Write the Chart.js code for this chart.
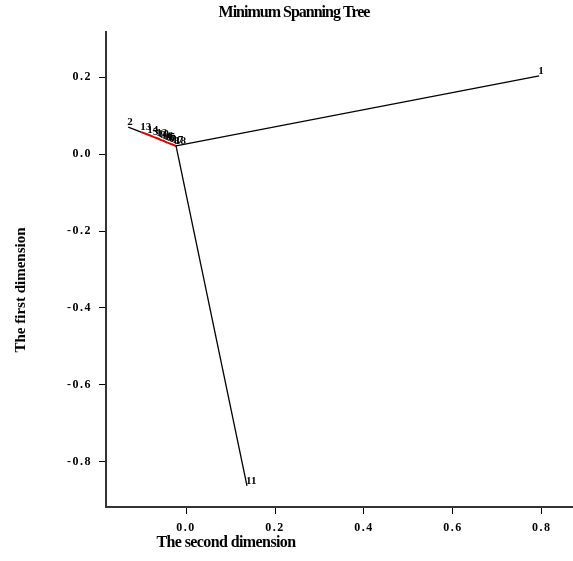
<!DOCTYPE html>
<html>
<head>
<meta charset="utf-8">
<script src="https://cdn.jsdelivr.net/npm/chart.js@4/dist/chart.umd.min.js"></script>
<style>
  html, body { margin: 0; padding: 0; background: #fff; }
  #wrap { width: 573px; height: 561px; }
</style>
</head>
<body>
<div id="wrap"><canvas id="mst"></canvas></div>
<script>
// node labels and coordinates (x = second dimension, y = first dimension)
const nodeIds = ['1', '2', '11', '13', '14', '3', '12', '10', '9', '16', '15', '4', '5', '6', '7', '17', '8', '18'];
const dim2 = [0.794, -0.130, 0.137, -0.101, -0.085, -0.072, -0.065, -0.061, -0.056, -0.052, -0.047, -0.043, -0.040, -0.036, -0.034, -0.029, -0.025, -0.0225];
const dim1 = [0.203, 0.070, -0.862, 0.057, 0.050, 0.044, 0.041, 0.039, 0.036, 0.035, 0.032, 0.030, 0.029, 0.027, 0.026, 0.024, 0.022, 0.021];

// tree edges
const blackEdges = [['1', '18'], ['11', '18'], ['2', '13']];
const redPath = ['13', '14', '3', '12', '10', '9', '16', '15', '4', '5', '6', '7', '17', '8', '18'];

const xTicks = [0.0, 0.2, 0.4, 0.6, 0.8];
const yTicks = [-0.8, -0.6, -0.4, -0.2, 0.0, 0.2];

const pt = (id) => {
  const i = nodeIds.indexOf(id);
  return { x: dim2[i], y: dim1[i] };
};

const datasets = blackEdges.map((e) => ({
  data: e.map(pt),
  showLine: true,
  borderColor: '#000',
  borderWidth: 1.3,
  pointRadius: 0,
}));
datasets.push({
  data: redPath.map(pt),
  showLine: true,
  borderColor: '#e00000',
  borderWidth: 2,
  pointRadius: 0,
});

const serif = '"Liberation Serif", "DejaVu Serif", serif';

// spaced-out tick labels like the original
const spacing = {
  id: 'spacing',
  beforeDraw(chart) { chart.ctx.letterSpacing = '1.5px'; },
  afterDatasetsDraw(chart) { chart.ctx.letterSpacing = '0px'; },
};

const textPlugin = {
  id: 'mstText',
  afterDraw(chart) {
    const { ctx, scales } = chart;
    ctx.save();
    ctx.fillStyle = '#000';
    ctx.letterSpacing = '0px';
    // node labels
    ctx.font = 'bold 11px ' + serif;
    ctx.textAlign = 'left';
    ctx.textBaseline = 'alphabetic';
    nodeIds.forEach((id, i) => {
      const px = scales.x.getPixelForValue(dim2[i]);
      const py = scales.y.getPixelForValue(dim1[i]);
      ctx.fillText(id, px - 1, py - 2);
    });
    // titles
    ctx.textAlign = 'center';
    ctx.textBaseline = 'middle';
    ctx.font = 'bold 16px ' + serif;
    ctx.letterSpacing = '-1px';
    ctx.fillText('Minimum Spanning Tree', 294, 13);
    ctx.letterSpacing = '-0.6px';
    ctx.fillText('The second dimension', 226, 543);
    ctx.font = 'bold 15px ' + serif;
    ctx.letterSpacing = '0px';
    ctx.translate(21, 290);
    ctx.rotate(-Math.PI / 2);
    ctx.fillText('The first dimension', 0, 0);
    ctx.restore();
  },
};

const axisStyle = {
  grid: { display: true, drawOnChartArea: false, drawTicks: true, tickLength: 7, color: '#000' },
  border: { display: true, color: '#333', width: 2 },
  ticks: {
    color: '#000',
    padding: 7,
    font: { family: serif, size: 12, weight: 'bold' },
    callback: (v) => Number(v).toFixed(1),
  },
};

new Chart(document.getElementById('mst'), {
  type: 'scatter',
  data: { datasets },
  options: {
    animation: false,
    responsive: true,
    maintainAspectRatio: false,
    layout: { padding: { top: 32, right: 0, left: 0, bottom: 0 } },
    plugins: { legend: { display: false }, tooltip: { enabled: false }, title: { display: false } },
    scales: {
      x: {
        ...axisStyle,
        min: -0.18,
        max: 0.87,
        afterBuildTicks: (s) => { s.ticks = xTicks.map((value) => ({ value })); },
        afterFit: (s) => { s.height = 54; },
      },
      y: {
        ...axisStyle,
        min: -0.917,
        max: 0.317,
        afterBuildTicks: (s) => { s.ticks = yTicks.map((value) => ({ value })); },
        afterFit: (s) => { s.width = 106; },
      },
    },
  },
  plugins: [spacing, textPlugin],
});
</script>
</body>
</html>
